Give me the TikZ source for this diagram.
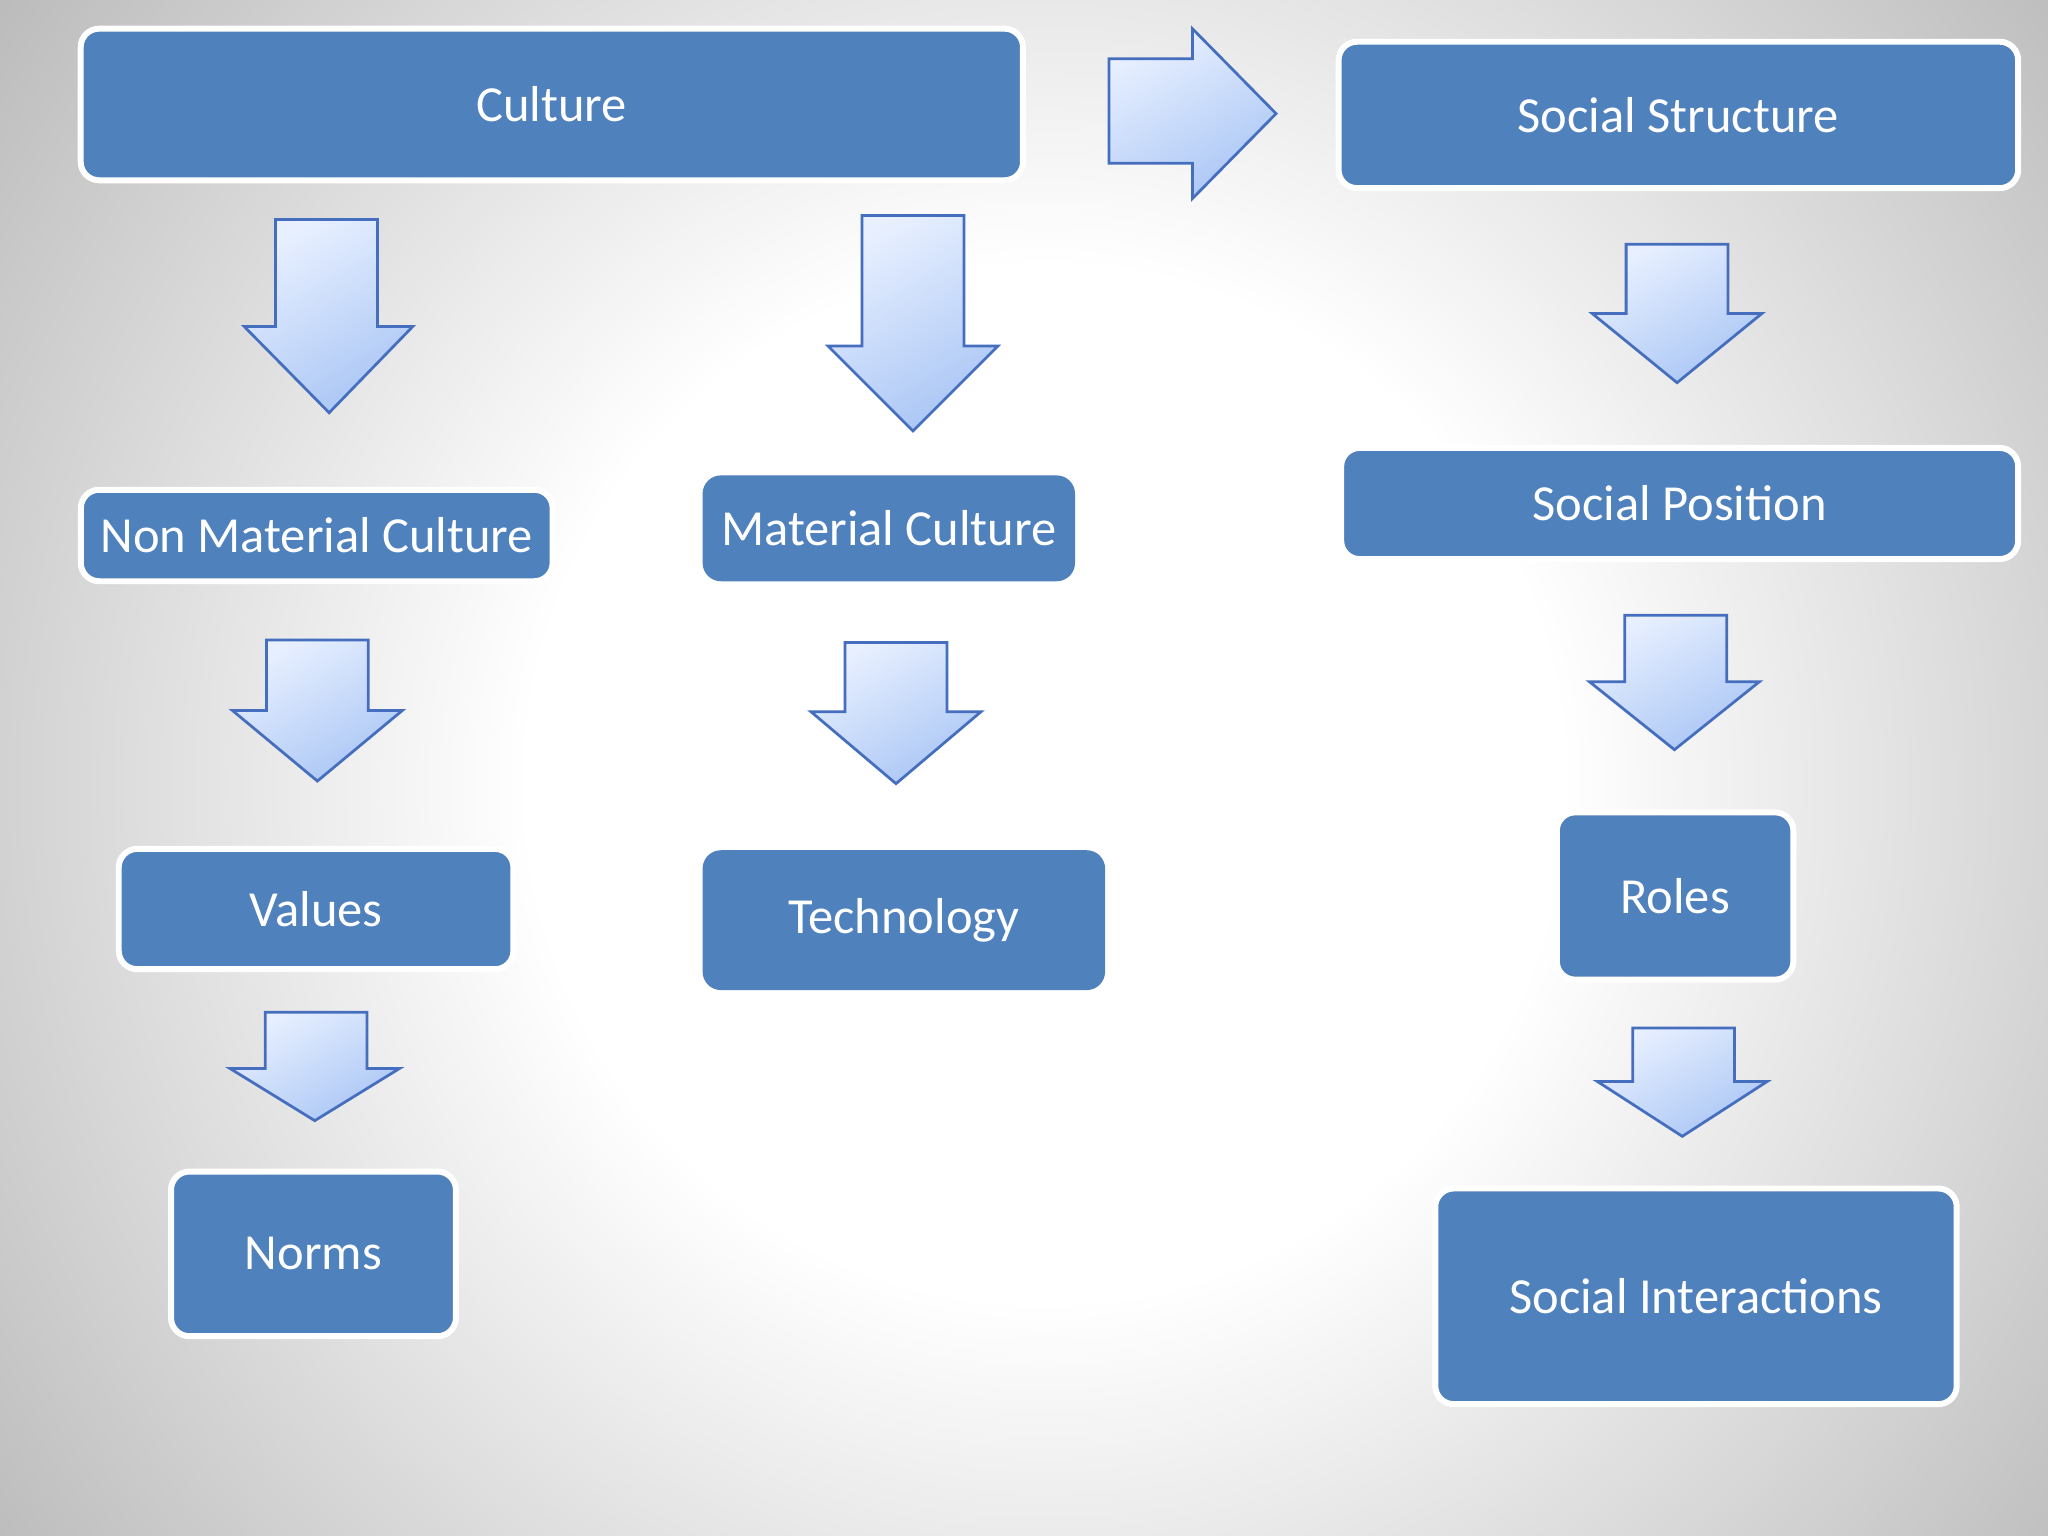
\documentclass[tikz,border=0pt]{standalone}
\usepackage{fontspec}
\setmainfont{Carlito}
\definecolor{bx}{RGB}{79,129,189}
\definecolor{ab}{RGB}{70,110,190}
\definecolor{al}{RGB}{232,240,255}
\definecolor{ad}{RGB}{170,198,245}
\pgfdeclareradialshading{bgshade}{\pgfpoint{0bp}{0bp}}{color(0bp)=(white); color(11bp)=(white); color(30bp)=(black!30); color(42bp)=(black!40); color(50bp)=(black!45)}
\tikzset{
 box/.style={fill=bx,draw=white,line width=1.3pt,rounded corners=4pt,text=white,inner sep=0pt,font=\fontsize{11}{13}\selectfont},
 boxplain/.style={box,draw=none},
 barrow/.style={draw=ab,line width=0.6pt,top color=al,bottom color=ad,shading angle=30}
}
\newcommand\dnarr[8]{\path[barrow] (#1,#3) -- (#2,#3) -- (#2,#4) -- (#6,#4) -- (#7,#8) -- (#5,#4) -- (#1,#4) -- cycle;}
\begin{document}
\begin{tikzpicture}[x=0.01cm,y=-0.01cm]
\useasboundingbox (0,0) rectangle (1568,1176);
\shade[shading=bgshade] (-100,-300) rectangle (1700,1500);
\node[box,minimum width=7.21cm,minimum height=1.16cm] (cul) at (422.5,80) {Culture};
\node[box,minimum width=5.2cm,minimum height=1.12cm] (ss) at (1285,88) {Social Structure};
\node[box,minimum width=3.61cm,minimum height=0.7cm] (nmc) at (242.5,410) {Non Material Culture};
\node[boxplain,minimum width=2.85cm,minimum height=0.81cm] (mc) at (680.5,404.5) {Material Culture};
\node[box,minimum width=5.18cm,minimum height=0.85cm] (sp) at (1286,385.5) {Social Position};
\node[box,minimum width=3.02cm,minimum height=0.92cm] (val) at (242,696) {Values};
\node[boxplain,minimum width=3.08cm,minimum height=1.07cm] (tech) at (692,704.5) {Technology};
\node[box,minimum width=1.81cm,minimum height=1.28cm] (rol) at (1282.5,686) {Roles};
\node[box,minimum width=2.18cm,minimum height=1.26cm] (nor) at (240,960) {Norms};
\node[box,minimum width=3.99cm,minimum height=1.65cm] (si) at (1298.5,992.5) {Social Interactions};
\dnarr{211}{289}{168}{250}{187}{316}{252}{316}
\dnarr{660}{738}{165}{265}{634}{764}{699}{330}
\dnarr{1245}{1323}{187}{240}{1219}{1349}{1284}{293}
\dnarr{1244}{1322}{471}{522}{1217}{1347}{1282}{574}
\dnarr{204}{282}{490}{544}{178}{308}{243}{598}
\dnarr{647}{725}{492}{545}{621}{751}{686}{600}
\dnarr{203}{281}{775}{818}{176}{306}{241}{858}
\dnarr{1250}{1328}{787}{828}{1223}{1353}{1288}{870}
\path[barrow] (849,45) -- (913,45) -- (913,22) -- (977,87) -- (913,152) -- (913,125) -- (849,125) -- cycle;
\end{tikzpicture}
\end{document}
